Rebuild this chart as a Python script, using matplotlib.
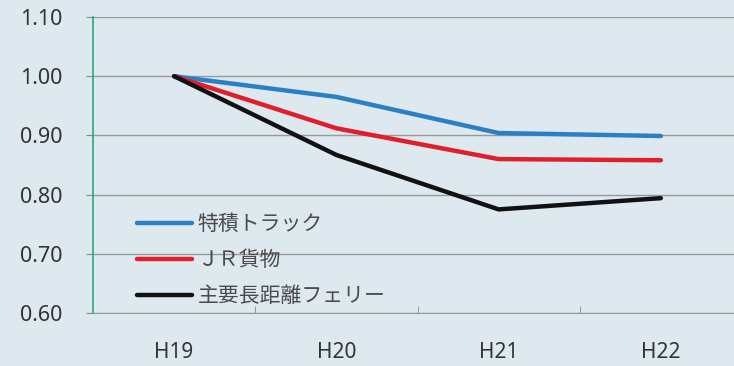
import matplotlib
matplotlib.use("Agg")
import matplotlib.pyplot as plt

categories = ["H19", "H20", "H21", "H22"]
truck = [1.00, 0.965, 0.904, 0.899]
jr = [1.00, 0.912, 0.860, 0.858]
ferry = [1.00, 0.867, 0.775, 0.794]
series_names = ["特積トラック", "ＪＲ貨物", "主要長距離フェリー"]
yticks = [0.60, 0.70, 0.80, 0.90, 1.00, 1.10]

plt.rcParams['font.family'] = ['Noto Sans CJK JP', 'DejaVu Sans']

fig = plt.figure(figsize=(7.34, 3.66), dpi=100)
bg = "#dde8ef"
fig.patch.set_facecolor(bg)
ax = fig.add_axes([93/734, 1-313/366, (742-93)/734, (313-17)/366])
ax.set_facecolor(bg)

x = list(range(len(categories)))
ax.plot(x, truck, color="#2b80c5", lw=3.2, label=series_names[0], solid_capstyle="round")
ax.plot(x, jr, color="#e01e2c", lw=3.2, label=series_names[1], solid_capstyle="round")
ax.plot(x, ferry, color="#111111", lw=3.2, label=series_names[2], solid_capstyle="round")

ax.set_xlim(-0.5, len(categories) - 0.5)
ax.set_ylim(0.60, 1.10)
ax.set_yticks(yticks)
ax.set_yticklabels([f"{v:.2f}" for v in yticks], fontsize=15.5, color="#333333",
                   family=['Noto Sans', 'DejaVu Sans'])
ax.set_xticks(x)
ax.set_xticklabels(categories, fontsize=15, color="#333333",
                   family=['Noto Sans', 'DejaVu Sans'])
ax.set_xticks([0.5, 1.5, 2.5], minor=True)
ax.tick_params(axis='x', which='major', length=0, pad=21)
ax.tick_params(axis='x', which='minor', length=5, color="#888888", direction='in')
ax.tick_params(axis='y', length=5, color="#888888", pad=17)
ax.grid(axis='y', color="#999999", lw=1.0)
for s in ['top', 'right']:
    ax.spines[s].set_visible(False)
ax.spines['left'].set_color("#2aa878")
ax.spines['left'].set_linewidth(1.2)
ax.spines['bottom'].set_color("#999999")

leg = ax.legend(loc="upper left", bbox_to_anchor=(0.068, 0.338), frameon=False,
                fontsize=15, handlelength=2.65, handletextpad=0.25, labelspacing=0.68,
                borderaxespad=0, borderpad=0)
for t in leg.get_texts():
    t.set_color("#4a4a4a")

fig.savefig("out.png", dpi=100, facecolor=bg)
